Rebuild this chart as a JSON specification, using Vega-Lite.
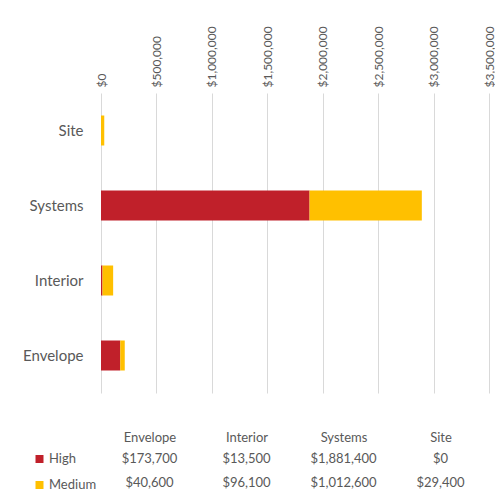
{
  "$schema": "https://vega.github.io/schema/vega-lite/v6.json",
  "padding": {"left": 5, "top": 5, "right": 0, "bottom": 0},
  "background": "white",
  "data": {
    "values": [
      {"category": "Envelope", "level": "High", "value": 173700},
      {"category": "Envelope", "level": "Medium", "value": 40600},
      {"category": "Interior", "level": "High", "value": 13500},
      {"category": "Interior", "level": "Medium", "value": 96100},
      {"category": "Systems", "level": "High", "value": 1881400},
      {"category": "Systems", "level": "Medium", "value": 1012600},
      {"category": "Site", "level": "High", "value": 0},
      {"category": "Site", "level": "Medium", "value": 29400}
    ]
  },
  "bounds": "flush",
  "spacing": 54,
  "resolve": {"legend": {"color": "independent"}},
  "vconcat": [
    {
      "width": 388,
      "height": 300,
      "mark": {"type": "bar"},
      "encoding": {
        "y": {
          "field": "category",
          "type": "nominal",
          "sort": ["Site", "Systems", "Interior", "Envelope"],
          "scale": {"paddingInner": 0.6, "paddingOuter": 0.3},
          "axis": {
            "title": null,
            "ticks": false,
            "domain": false,
            "labelPadding": 18,
            "labelFontSize": 15,
            "labelFont": "Lato",
            "labelColor": "#595959",
            "minExtent": 96,
            "maxExtent": 96
          }
        },
        "x": {
          "field": "value",
          "type": "quantitative",
          "stack": "zero",
          "scale": {"domain": [0, 3500000], "nice": false},
          "axis": {
            "orient": "top",
            "title": null,
            "format": "$,.0f",
            "values": [0, 500000, 1000000, 1500000, 2000000, 2500000, 3000000, 3500000],
            "labelAngle": -90,
            "labelFontSize": 12,
            "labelFont": "Lato",
            "labelColor": "#595959",
            "labelPadding": 6,
            "ticks": false,
            "domain": false,
            "grid": true,
            "gridColor": "#D9D9D9",
            "labelFlush": false,
            "labelOverlap": false,
            "minExtent": 88,
            "maxExtent": 88
          }
        },
        "color": {
          "field": "level",
          "type": "nominal",
          "scale": {"domain": ["High", "Medium"], "range": ["#C0202A", "#FFC000"]},
          "legend": {
            "orient": "none",
            "legendX": -68,
            "legendY": 359.5,
            "title": null,
            "padding": 0,
            "symbolType": "square",
            "symbolSize": 64,
            "symbolStrokeWidth": 0,
            "labelOffset": 3,
            "labelFontSize": 13,
            "labelFont": "Lato",
            "labelColor": "#595959",
            "rowPadding": 12
          }
        }
      }
    },
    {
      "width": 388,
      "height": 48,
      "mark": {"type": "text", "font": "Lato", "fontSize": 13, "color": "#595959", "baseline": "middle"},
      "encoding": {
        "x": {
          "field": "category",
          "type": "nominal",
          "sort": ["Envelope", "Interior", "Systems", "Site"],
          "axis": {
            "orient": "top",
            "title": null,
            "ticks": false,
            "domain": false,
            "grid": false,
            "labelAngle": 0,
            "labelPadding": 3,
            "labelFontSize": 13,
            "labelFont": "Lato",
            "labelColor": "#595959"
          }
        },
        "y": {
          "field": "level",
          "type": "nominal",
          "sort": ["High", "Medium"],
          "axis": null
        },
        "text": {"field": "value", "type": "quantitative", "format": "$,.0f"}
      }
    }
  ],
  "config": {"view": {"stroke": null}}
}
